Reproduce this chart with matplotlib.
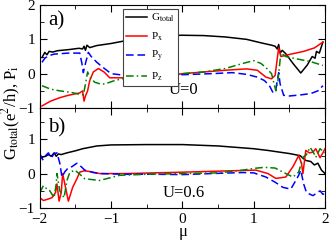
import matplotlib
matplotlib.use("Agg")
import matplotlib.pyplot as plt
from matplotlib.ticker import MultipleLocator

plt.rcParams['font.family'] = 'Liberation Serif'
plt.rcParams['mathtext.fontset'] = 'stix'

# ---- U = 0 (panel a)
g0_mu = [-1.97, -1.93, -1.9, -1.87, -1.82, -1.75, -1.6, -1.45, -1.4, -1.38, -1.36, -1.34, -1.3, -1.2,
         -1.0, -0.8, -0.6, -0.4, -0.2, 0.0, 0.3, 0.6, 0.9, 1.1, 1.25, 1.3, 1.33, 1.35, 1.37, 1.4,
         1.45, 1.55, 1.66, 1.75, 1.82, 1.86, 1.88, 1.92, 1.97]
g0 = [0.47, 0.62, 0.55, 0.65, 0.63, 0.67, 0.7, 0.74, 0.72, 0.8, 0.68, 0.83, 0.76, 0.82,
      0.88, 0.96, 1.03, 1.08, 1.11, 1.12, 1.11, 1.07, 1.0, 0.9, 0.83, 0.8, 0.72, 0.85, 0.6, 0.68,
      0.58, 0.3, 0.02, 0.25, 0.5, 0.45, 0.65, 0.6, 0.92]

px0_mu = [-1.97, -1.85, -1.72, -1.6, -1.44, -1.4, -1.38, -1.36, -1.33, -1.3, -1.25, -1.18, -1.1,
          -1.02, -0.8, -0.5, -0.2, 0.0, 0.3, 0.6, 0.9, 1.05, 1.17, 1.25, 1.3, 1.35, 1.38, 1.42,
          1.5, 1.7, 1.85, 1.97]
px0 = [-0.94, -0.8, -0.7, -0.63, -0.56, -0.5, -0.8, -0.65, -0.5, -0.2, 0.05, 0.15, 0.05,
       -0.12, -0.12, -0.09, -0.06, 0.0, 0.05, 0.1, 0.14, 0.1, -0.1, -0.15, -0.05, 0.76, 0.5, 0.52,
       0.56, 0.65, 0.75, 0.92]

py0_mu = [-1.97, -1.93, -1.88, -1.8, -1.6, -1.44, -1.41, -1.39, -1.36, -1.32, -1.28, -1.2, -1.1,
          -1.0, -0.8, -0.4, 0.0, 0.4, 0.7, 0.9, 1.05, 1.15, 1.22, 1.27, 1.31, 1.35, 1.37, 1.42,
          1.5, 1.65, 1.8, 1.9, 1.97]
py0 = [0.33, 0.45, 0.52, 0.57, 0.6, 0.6, 0.3, 0.03, 0.3, 0.62, 0.5, 0.33, 0.16,
       0.0, -0.05, -0.04, -0.03, 0.0, 0.03, -0.02, -0.1, -0.2, -0.35, -0.55, -0.45, 0.03, -0.3, -0.63,
       -0.65, -0.62, -0.58, -0.5, -0.35]

pz0_mu = [-1.97, -1.85, -1.72, -1.55, -1.44, -1.39, -1.36, -1.33, -1.3, -1.23, -1.15, -1.09,
          -0.95, -0.75, -0.5, -0.2, 0.0, 0.3, 0.6, 0.85, 1.0, 1.1, 1.17, 1.25, 1.31, 1.34, 1.38,
          1.45, 1.63, 1.8, 1.97]
pz0 = [-0.35, -0.45, -0.5, -0.55, -0.6, -0.62, -0.3, 0.05, -0.1, -0.25, -0.3, -0.3,
       -0.2, -0.1, -0.06, -0.03, 0.0, 0.05, 0.15, 0.3, 0.38, 0.3, 0.18, 0.0, -0.5, -0.2, 0.6,
       0.5, 0.42, 0.35, 0.24]

# ---- U = 0.6 (panel b)
g6_mu = [-2.0, -1.96, -1.92, -1.88, -1.84, -1.8, -1.77, -1.74, -1.7, -1.62, -1.5, -1.4, -1.2,
         -1.0, -0.5, 0.0, 0.5, 1.0, 1.2, 1.5, 1.65, 1.73, 1.8, 1.85, 1.9, 1.95, 2.0]
g6 = [0.43, 0.48, 0.5, 0.55, 0.5, 0.6, 0.5, 0.57, 0.55, 0.6, 0.66, 0.72, 0.8,
      0.83, 0.84, 0.84, 0.8, 0.72, 0.67, 0.58, 0.52, 0.38, 0.35, 0.25, 0.3, 0.1, 0.0]

px6_mu = [-2.0, -1.95, -1.9, -1.83, -1.78, -1.76, -1.73, -1.7, -1.68, -1.64, -1.6, -1.54, -1.48,
          -1.44, -1.38, -1.3, -1.16, -0.8, -0.4, 0.0, 0.5, 1.03, 1.2, 1.31, 1.45, 1.55, 1.63, 1.67,
          1.69, 1.73, 1.78, 1.83, 1.87, 1.93, 1.97, 2.0]
px6 = [-0.7, -0.78, -0.75, -0.7, -0.55, -0.3, -0.8, -0.55, 0.0, -0.4, -0.8, -0.4, -0.15,
       0.04, 0.08, 0.06, 0.0, 0.0, 0.02, 0.04, 0.07, 0.1, 0.0, -0.14, -0.1, 0.2, 0.52, 0.3,
       0.0, 0.67, 0.6, 0.62, 0.72, 0.46, 0.6, 0.72]

py6_mu = [-2.0, -1.96, -1.92, -1.88, -1.84, -1.8, -1.76, -1.72, -1.69, -1.65, -1.6, -1.55, -1.48,
          -1.42, -1.37, -1.25, -1.16, -0.8, -0.4, 0.0, 0.4, 0.85, 1.0, 1.17, 1.3, 1.41, 1.52, 1.59,
          1.63, 1.66, 1.7, 1.74, 1.83, 1.93, 1.97, 2.0]
py6 = [0.58, 0.4, 0.52, 0.6, 0.45, 0.58, 0.6, 0.3, -0.1, 0.05, 0.17, 0.2, 0.3,
       0.2, 0.1, 0.03, 0.0, -0.02, -0.02, -0.03, 0.0, 0.03, 0.02, -0.1, -0.25, -0.4, -0.45, -0.2,
       -0.05, 0.1, -0.3, -0.55, -0.64, -0.5, -0.6, -0.58]

pz6_mu = [-2.0, -1.95, -1.9, -1.86, -1.8, -1.77, -1.76, -1.72, -1.66, -1.62, -1.58, -1.51, -1.45,
          -1.37, -1.16, -0.88, -0.5, 0.0, 0.5, 0.85, 1.0, 1.15, 1.3, 1.45, 1.55, 1.63, 1.69, 1.74,
          1.79, 1.84, 1.87, 1.93, 2.0]
pz6 = [-0.55, -0.35, -0.45, -0.5, -0.7, -0.3, 0.0, -0.5, -0.7, -0.2, 0.03, 0.1, 0.0,
       -0.15, -0.2, -0.05, -0.02, 0.0, 0.02, 0.1, 0.15, 0.18, 0.16, 0.0, -0.1, 0.04, 0.47, 0.55,
       0.76, 0.6, 0.47, 0.72, 0.6]

fig = plt.figure(figsize=(3.32, 2.40), dpi=100)
ax1 = fig.add_axes([0.120, 0.550, 0.859, 0.429])
ax2 = fig.add_axes([0.120, 0.133, 0.859, 0.417])

lw = 1.1
for ax, data in [(ax1, (g0_mu, g0, px0_mu, px0, py0_mu, py0, pz0_mu, pz0)),
                 (ax2, (g6_mu, g6, px6_mu, px6, py6_mu, py6, pz6_mu, pz6))]:
    gm, g, xm, x, ym, y, zm, z = data
    ax.plot(gm, g, color='black', lw=lw, label=r'G$_{\rm total}$')
    ax.plot(xm, x, color='red', lw=lw, label=r'P$_{\rm x}$')
    ax.plot(ym, y, color='blue', lw=lw, ls=(0, (5, 2.5)), label=r'P$_{\rm y}$')
    ax.plot(zm, z, color='green', lw=lw, ls=(0, (5, 2, 1, 2)), label=r'P$_{\rm z}$')
    ax.set_xlim(-2, 2)
    ax.xaxis.set_major_locator(MultipleLocator(1))
    ax.xaxis.set_minor_locator(MultipleLocator(0.5))
    ax.yaxis.set_major_locator(MultipleLocator(1))
    ax.yaxis.set_minor_locator(MultipleLocator(0.5))
    ax.tick_params(which='both', direction='in', top=True, right=True, labelsize=11)
    ax.tick_params(which='major', length=5)
    ax.tick_params(which='minor', length=3)

ax1.set_ylim(-1, 2)
ax2.set_ylim(-1, 1.9)
ax1.tick_params(labelbottom=False)

leg = ax1.legend(loc='upper left', bbox_to_anchor=(0.29, 0.965), fontsize=8,
                 frameon=True, fancybox=False, edgecolor='#444444', framealpha=1,
                 borderaxespad=0, handlelength=1.9, labelspacing=0.55, borderpad=0.3,
                 handletextpad=0.35)
leg.get_frame().set_linewidth(0.8)

ax1.text(0.03, 0.85, 'a)', transform=ax1.transAxes, fontsize=15, va='center')
ax2.text(0.03, 0.80, 'b)', transform=ax2.transAxes, fontsize=15, va='center')
ax1.text(0.45, 0.17, 'U=0', transform=ax1.transAxes, fontsize=12, va='center')
ax2.text(0.43, 0.15, 'U=0.6', transform=ax2.transAxes, fontsize=12, va='center')

fig.text(0.551, 0.035, 'μ', fontsize=12, ha='center', va='center')
fig.text(0.035, 0.53, r'G$_{\rm total}$(e$^2$/h), P$_{\rm i}$', rotation=90,
         fontsize=12, ha='center', va='center')

fig.savefig('out.png', dpi=100)
